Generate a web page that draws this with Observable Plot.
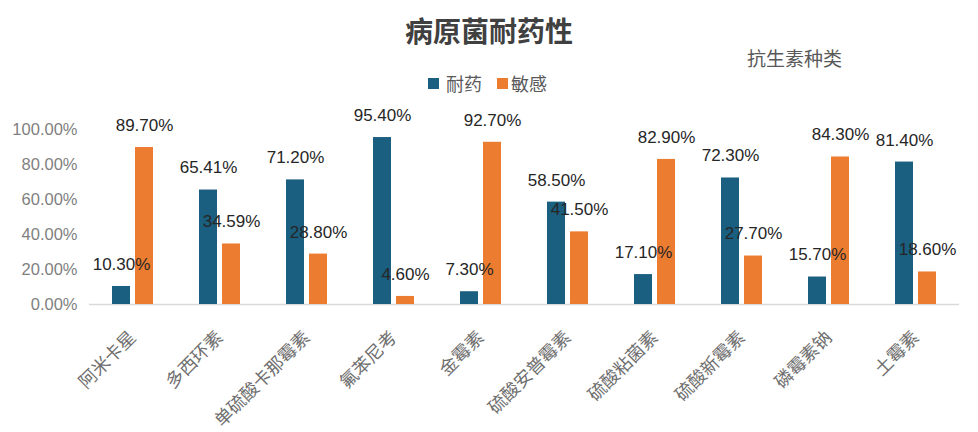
<!DOCTYPE html>
<html>
<head>
<meta charset="utf-8">
<script src="https://cdn.jsdelivr.net/npm/d3@7"></script>
<script src="https://cdn.jsdelivr.net/npm/@observablehq/plot@0.6"></script>
<style>
  html, body { margin: 0; padding: 0; background: #fff; }
  #wrap { width: 978px; }
  #header { position: relative; width: 978px; height: 95px; font-family: "Noto Sans CJK SC", "Liberation Sans", sans-serif; }
  .abs { position: absolute; white-space: nowrap; line-height: 1; }
  #title { left: 0; width: 978px; text-align: center; top: 16px; font-size: 28px; font-weight: bold; color: #404040; }
  #sub { left: 747px; top: 48px; font-size: 19px; color: #595959; }
  .sw { position: absolute; width: 11px; height: 11px; top: 78px; }
  .lt { top: 74px; font-size: 18px; color: #595959; }
  svg { display: block; }
</style>
</head>
<body>
<div id="wrap">
  <div id="header">
    <div id="title" class="abs">病原菌耐药性</div>
    <div id="sub" class="abs">抗生素种类</div>
    <div id="legend"></div>
  </div>
  <div id="chart"></div>
</div>
<script>
const categories = ["阿米卡星", "多西环素", "单硫酸卡那霉素", "氟苯尼考", "金霉素", "硫酸安普霉素", "硫酸粘菌素", "硫酸新霉素", "磷霉素钠", "土霉素"];
const resistant = [10.30, 65.41, 71.20, 95.40, 7.30, 58.50, 17.10, 72.30, 15.70, 81.40];
const sensitive = [89.70, 34.59, 28.80, 4.60, 92.70, 41.50, 82.90, 27.70, 84.30, 18.60];
const seriesNames = ["耐药", "敏感"];
const seriesColors = ["#1a5e80", "#ec7c30"];
const yTicks = [0, 20, 40, 60, 80, 100];

const data = categories.flatMap((c, i) => [
  {cat: c, s: seriesNames[0], v: resistant[i]},
  {cat: c, s: seriesNames[1], v: sensitive[i]}
]);

// legend
const legend = document.getElementById("legend");
const legendPos = [[428, 446], [497, 511]];
seriesNames.forEach((name, i) => {
  const sw = document.createElement("div");
  sw.className = "sw";
  sw.style.left = legendPos[i][0] + "px";
  sw.style.background = seriesColors[i];
  legend.appendChild(sw);
  const t = document.createElement("div");
  t.className = "abs lt";
  t.style.left = legendPos[i][1] + "px";
  t.textContent = name;
  legend.appendChild(t);
});

const chart = Plot.plot({
  width: 978,
  height: 337,
  marginTop: 34,
  marginBottom: 128,
  marginLeft: 88,
  marginRight: 18,
  style: {fontFamily: "'Liberation Sans', 'Noto Sans CJK SC', sans-serif", background: "#fff"},
  fx: {domain: categories, padding: 0},
  x: {domain: seriesNames, paddingInner: 0.22, paddingOuter: 1.0},
  y: {domain: [0, 100]},
  color: {domain: seriesNames, range: seriesColors},
  marks: [
    Plot.axisY({ticks: yTicks, tickFormat: d => d.toFixed(2) + "%", tickSize: 0, tickPadding: 12, fontSize: 16.5, fill: "#7f7f7f", label: null}),
    Plot.axisFx({anchor: "bottom", tickRotate: -45, tickSize: 0, tickPadding: 30, fontSize: 18, fill: "#6f6f6f", label: null, fontFamily: "'Noto Sans CJK SC', sans-serif"}),
    Plot.axisX({ticks: [], label: null}),
    Plot.ruleY([0], {stroke: "#d9d9d9", strokeWidth: 1.5}),
    Plot.barY(data, {fx: "cat", x: "s", y: "v", fill: "s"}),
    Plot.text(data, {fx: "cat", x: "s", y: "v", text: d => d.v.toFixed(2) + "%", dy: -22, fontSize: 17, fill: "#262626"})
  ]
});
document.getElementById("chart").appendChild(chart);
</script>
</body>
</html>
